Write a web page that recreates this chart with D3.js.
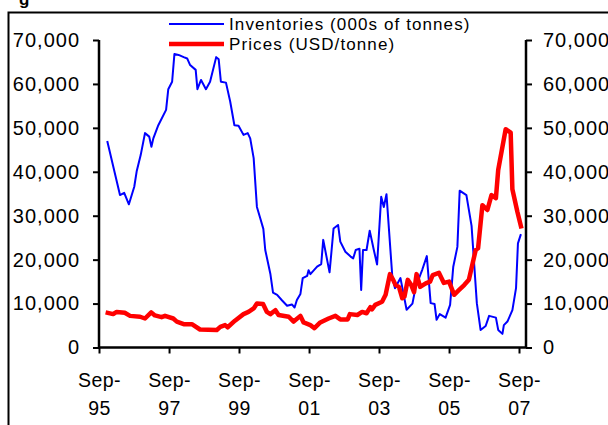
<!DOCTYPE html>
<html>
<head>
<meta charset="utf-8">
<script src="https://cdn.jsdelivr.net/npm/d3@7"></script>
<style>
  body { margin: 0; background: #fff; }
  svg { display: block; font-family: Arial, "Liberation Sans", sans-serif; }
</style>
</head>
<body>
<div id="chart"></div>
<script>
// inventories, 000s of tonnes
var invDates = ["1995-11-26","1996-04-07","1996-05-21","1996-07-09","1996-09-03","1996-09-29","1996-11-09","1996-12-24",
  "1997-02-06","1997-03-01","1997-03-21","1997-05-12","1997-08-01","1997-08-24","1997-10-03","1997-10-27","1997-12-09",
  "1998-02-01","1998-03-09","1998-04-09","1998-06-06","1998-06-24","1998-08-01","1998-09-21","1998-11-03",
  "1999-01-06","1999-02-01","1999-02-24","1999-04-18","1999-06-01","1999-07-15","1999-08-27","1999-10-18","1999-12-01","1999-12-27",
  "2000-02-01","2000-03-06","2000-04-09","2000-05-12","2000-06-01","2000-07-24","2000-08-21","2000-10-03","2000-11-24",
  "2001-01-15","2001-03-06","2001-04-03","2001-04-27","2001-06-03","2001-06-27","2001-08-12","2001-08-27","2001-09-15","2001-11-24",
  "2002-01-06","2002-01-27","2002-04-03","2002-05-15","2002-07-01","2002-07-24","2002-09-15","2002-11-09","2002-12-06",
  "2003-01-01","2003-02-09","2003-02-27","2003-03-18","2003-04-24","2003-05-27","2003-07-09","2003-08-12","2003-09-24","2003-10-21","2003-11-18",
  "2004-01-18","2004-02-15","2004-04-12","2004-06-15","2004-08-15","2004-09-18","2004-11-27",
  "2005-01-12","2005-02-21","2005-04-03","2005-04-24","2005-05-27","2005-07-27","2005-09-12","2005-10-15","2005-11-27","2005-12-21",
  "2006-03-01","2006-04-24","2006-06-18","2006-07-27","2006-09-18","2006-10-24",
  "2007-01-03","2007-01-27","2007-03-12","2007-03-27","2007-05-03","2007-06-24","2007-08-01","2007-08-21","2007-09-21"];
var invValues = [47000,34700,35200,32600,36600,40200,43800,48800,
  48000,45700,47600,50600,54100,58800,60500,66800,66600,
  66100,65800,64300,63200,58800,60900,58800,60500,
  66100,65600,60500,60300,56000,50600,50500,48400,48800,47600,
  43100,32000,29500,27000,22200,16800,12500,12000,10700,
  9500,9800,9100,10800,12200,15800,16300,17600,16700,18400,
  19000,24500,17100,27100,27900,24100,21800,20700,20300,
  22200,22500,13100,22200,22200,26600,22200,18900,34300,32000,34900,
  16100,13500,15800,8600,10000,13800,17800,
  20800,10100,9900,6300,7600,6800,9700,18400,22900,35700,
  34700,27700,10100,4000,4900,7200,
  6800,4000,3100,5100,5900,8500,13500,23700,25800];

// prices, USD/tonne
var priceDates = ["1995-11-09","1996-01-27","1996-03-03","1996-05-27","1996-07-21","1996-11-03","1996-12-24",
  "1997-02-27","1997-04-06","1997-06-15","1997-07-21","1997-10-15","1997-11-21",
  "1998-02-01","1998-04-27","1998-07-21","1999-01-12","1999-02-18","1999-04-09","1999-05-06","1999-07-21","1999-10-18","1999-12-09",
  "2000-02-01","2000-03-06","2000-05-09","2000-06-18","2000-07-24","2000-09-15","2000-10-18",
  "2001-02-01","2001-03-24","2001-06-03","2001-07-06","2001-09-15","2001-10-27","2001-12-27",
  "2002-03-24","2002-06-03","2002-07-24","2002-10-09","2002-11-01",
  "2003-01-18","2003-03-09","2003-04-24","2003-06-03","2003-06-21","2003-07-24","2003-10-03","2003-11-09","2003-12-24",
  "2004-01-27","2004-02-21","2004-03-27","2004-05-01","2004-05-24","2004-06-27","2004-08-03","2004-09-01","2004-09-27","2004-11-03",
  "2005-01-01","2005-02-15","2005-03-15","2005-05-18","2005-07-09","2005-09-01","2005-10-24","2005-12-15",
  "2006-02-06","2006-03-27","2006-06-06","2006-07-01","2006-08-15","2006-10-06","2006-11-18",
  "2007-01-03","2007-01-27","2007-04-15","2007-06-06","2007-06-24","2007-08-15","2007-09-27"];
var priceValues = [8000,7600,8100,7900,7200,7000,6600,
  8000,7300,6900,7200,6600,5900,
  5300,5300,4100,4000,4700,5100,4600,6100,7600,8100,
  8900,10000,9900,8100,7600,8500,7400,
  7000,5900,7200,5700,5100,4400,5700,
  6600,7200,6400,6400,7600,
  7400,8100,7800,9200,8700,9700,10400,12000,16700,
  15400,14200,13800,11200,11600,15400,14200,12600,16700,13800,
  14600,15000,16500,17000,14700,15000,12000,13100,
  14200,15400,22200,22600,32400,31300,34700,
  34000,40400,49700,48900,36000,30900,27100];

var yTicks = [0, 10000, 20000, 30000, 40000, 50000, 60000, 70000];
var xTickDates = ["1995-09-01","1997-09-01","1999-09-01","2001-09-01","2003-09-01","2005-09-01","2007-09-01"];
var legendLabels = ["Inventories (000s of tonnes)", "Prices (USD/tonne)"];

var width = 608, height = 425;
var parse = d3.timeParse("%Y-%m-%d");
var fmtMon = d3.timeFormat("%b-");
var fmtYr = d3.timeFormat("%y");

var svg = d3.select("#chart").append("svg")
    .attr("width", width)
    .attr("height", height);

// frame of the exhibit (left and top edges only)
svg.append("path")
    .attr("d", "M8.5," + height + "V12.5H" + width)
    .attr("fill", "none")
    .attr("stroke", "#000")
    .attr("stroke-width", 2);

// bit of the title that sticks in from above
svg.append("text")
    .attr("x", 19)
    .attr("y", 5)
    .attr("font-size", 17)
    .attr("font-weight", "bold")
    .text("g");

var plotL = 99, plotR = 526, plotT = 40, plotB = 347.5;

var x = d3.scaleTime()
    .domain([parse(xTickDates[0]), parse(xTickDates[xTickDates.length - 1])])
    .range([plotL, 519]);
x.domain([x.domain()[0], x.invert(plotR)]).range([plotL, plotR]);

var y = d3.scaleLinear()
    .domain([0, 70000])
    .range([plotB, plotT]);

var fmtY = d3.format(",");

// axes
var xAxis = svg.append("g")
    .attr("transform", "translate(0," + plotB + ")")
    .call(d3.axisBottom(x)
        .tickValues(xTickDates.map(parse))
        .tickSize(6)
        .tickFormat(""));
xAxis.selectAll(".tick text").remove();

xAxis.selectAll(".tick").each(function(d) {
    var t = d3.select(this).append("text")
        .attr("fill", "#000")
        .attr("text-anchor", "middle")
        .attr("font-size", 19.5)
        .attr("letter-spacing", 0.4);
    t.append("tspan").attr("x", 0).attr("y", 39).text(fmtMon(d));
    t.append("tspan").attr("x", 0).attr("y", 67).text(fmtYr(d));
});

var yLeft = svg.append("g")
    .attr("transform", "translate(" + plotL + ",0)")
    .call(d3.axisLeft(y)
        .tickValues(yTicks)
        .tickSize(6)
        .tickPadding(13)
        .tickFormat(fmtY));

var yRight = svg.append("g")
    .attr("transform", "translate(" + plotR + ",0)")
    .call(d3.axisRight(y)
        .tickValues(yTicks)
        .tickSize(6)
        .tickPadding(11)
        .tickFormat(fmtY));

svg.selectAll(".domain")
    .attr("stroke-width", 2.5);
svg.selectAll(".tick line")
    .attr("stroke-width", 2);
[yLeft, yRight].forEach(function(a) {
    a.selectAll("text")
        .attr("font-size", 20)
        .attr("letter-spacing", 1)
        .attr("fill", "#000")
        .attr("font-family", "Arial, 'Liberation Sans', sans-serif");
});
xAxis.selectAll("text").attr("font-family", "Arial, 'Liberation Sans', sans-serif");
// left and right domain lines without the end caps
yLeft.select(".domain").attr("d", "M0," + plotT + "V" + plotB);
yRight.select(".domain").attr("d", "M0," + plotT + "V" + plotB);
xAxis.select(".domain").attr("d", "M" + plotL + ",0H" + plotR);

// series
var line = d3.line()
    .x(function(d) { return x(d[0]); })
    .y(function(d) { return y(d[1]); });

var invData = invDates.map(function(d, i) { return [parse(d), invValues[i]]; });
var priceData = priceDates.map(function(d, i) { return [parse(d), priceValues[i]]; });

svg.append("path")
    .datum(invData)
    .attr("d", line)
    .attr("fill", "none")
    .attr("stroke", "#0000ff")
    .attr("stroke-width", 2)
    .attr("stroke-linejoin", "round");

svg.append("path")
    .datum(priceData)
    .attr("d", line)
    .attr("fill", "none")
    .attr("stroke", "#ff0000")
    .attr("stroke-width", 4.5)
    .attr("stroke-linejoin", "round");

// legend
var legend = svg.append("g")
    .attr("transform", "translate(169,24)");
var legendColors = ["#0000ff", "#ff0000"];
var legendWidths = [2, 4.5];

legendLabels.forEach(function(lbl, i) {
    var row = legend.append("g")
        .attr("transform", "translate(0," + (i * 20) + ")");
    row.append("line")
        .attr("x1", 0)
        .attr("x2", 55)
        .attr("stroke", legendColors[i])
        .attr("stroke-width", legendWidths[i]);
    row.append("text")
        .attr("x", 60)
        .attr("y", 6)
        .attr("font-size", 17)
        .attr("letter-spacing", 1.1)
        .text(lbl);
});
</script>
</body>
</html>
